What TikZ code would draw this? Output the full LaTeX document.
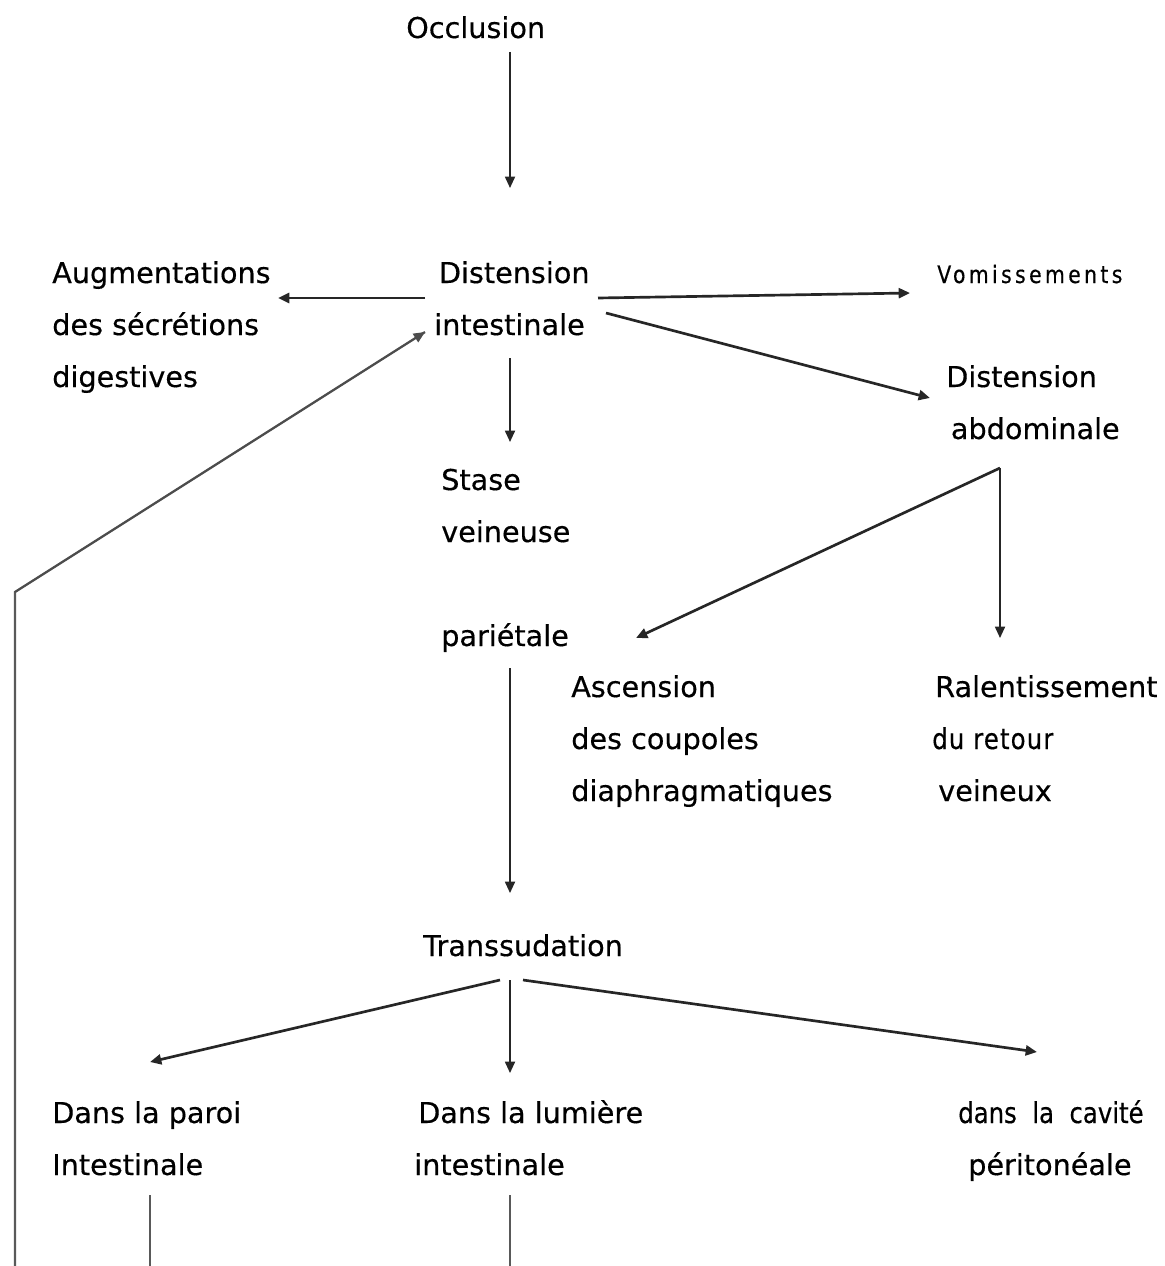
\documentclass[tikz,border=0pt]{standalone}
\usepackage{fontspec}
\setmainfont{DejaVu Sans}[FakeBold=0.4]
\newfontfamily\condfont[FakeStretch=0.85,LetterSpace=8,FakeBold=0.4]{DejaVu Sans}
\usetikzlibrary{arrows.meta}
\begin{document}
\begin{tikzpicture}[x=0.75pt,y=-0.75pt,
  txt/.style={anchor=base west,inner sep=0pt,align=left,font=\fontsize{21.5}{39}\selectfont},
  cond/.style={anchor=base west,inner sep=0pt,align=left,font=\condfont\fontsize{18}{39}\selectfont},
  arr/.style={-{Triangle[length=8.5pt,width=7.5pt]},line width=1.3pt,black!85},
  arrthick/.style={arr,line width=2pt},
  plain/.style={line width=1.4pt,gray!70!black}]
\useasboundingbox[fill=white] (0,0) rectangle (1164,1266);

% nodes (anchor = baseline of the last line)
\node[txt] (occ) at (406,38) {Occlusion};
\node[txt] (dist) at (434,335) {\hspace*{3.5pt}Distension\\intestinale};
\node[txt] (aug) at (52,387) {Augmentations\\des sécrétions\\digestives};
\node[cond,font=\condfont\fontsize{18}{39}\selectfont\addfontfeatures{LetterSpace=14}] (vom) at (937,283) {Vomissements};
\node[txt] (dabd) at (946,439) {Distension\\\hspace*{3.5pt}abdominale};
\node[txt] (stase) at (441,646) {Stase\\veineuse\\[39pt]pariétale};
\node[txt] (asc) at (571,801) {Ascension\\des coupoles\\diaphragmatiques};
\node[txt] (ral) at (932,801) {\hspace*{2.2pt}Ralentissement\\{\condfont\addfontfeatures{LetterSpace=4}du retour}\\\hspace*{4.5pt}veineux};
\node[txt] (trans) at (423,956) {Transsudation};
\node[txt] (paroi) at (52,1175) {Dans la paroi\\Intestinale};
\node[txt] (lum) at (414,1175) {\hspace*{3pt}Dans la lumière\\intestinale};
\node[txt] (cav) at (958,1175) {{\condfont\addfontfeatures{LetterSpace=0}dans\ \ la\ \ cavité}\\\hspace*{7.5pt}péritonéale};

% connector end points
\coordinate (occS) at (510,52);
\coordinate (distN) at (510,188);
\coordinate (distW) at (425,298);
\coordinate (augE) at (278,298);
\coordinate (distE) at (598,298);
\coordinate (vomW) at (910,293);
\coordinate (distSE) at (606,313);
\coordinate (dabdW) at (930,398);
\coordinate (distS) at (510,358);
\coordinate (staseN) at (510,442);
\coordinate (dabdS) at (1000,468);
\coordinate (ascNE) at (636,638);
\coordinate (ralN) at (1000,638);
\coordinate (staseS) at (510,668);
\coordinate (transN) at (510,893);
\coordinate (transSW) at (500,980);
\coordinate (paroiN) at (150,1062);
\coordinate (transS) at (510,980);
\coordinate (lumN) at (510,1073);
\coordinate (transSE) at (523,980);
\coordinate (cavN) at (1037,1052);
\coordinate (paroiS) at (150,1195);
\coordinate (paroiEnd) at (150,1266);
\coordinate (lumS) at (510,1195);
\coordinate (lumEnd) at (510,1266);
\coordinate (loopStart) at (15,1266);
\coordinate (loopCorner) at (15,592);
\coordinate (distSW) at (425,332);

% connectors
\draw[arr] (occS) -- (distN);
\draw[arrthick] (distW) -- (augE);
\draw[arrthick] (distE) -- (vomW);
\draw[arrthick] (distSE) -- (dabdW);
\draw[arr] (distS) -- (staseN);
\draw[arrthick] (dabdS) -- (ascNE);
\draw[arr] (dabdS) -- (ralN);
\draw[arr] (staseS) -- (transN);
\draw[arrthick] (transSW) -- (paroiN);
\draw[arr] (transS) -- (lumN);
\draw[arrthick] (transSE) -- (cavN);
\draw[plain] (paroiS) -- (paroiEnd);
\draw[plain] (lumS) -- (lumEnd);
\draw[plain,line width=1.7pt] (loopStart) -- (loopCorner) -- (distSW);
\draw[arr,line width=1.2pt,gray!60!black] (loopCorner) -- (distSW);
\end{tikzpicture}
\end{document}
